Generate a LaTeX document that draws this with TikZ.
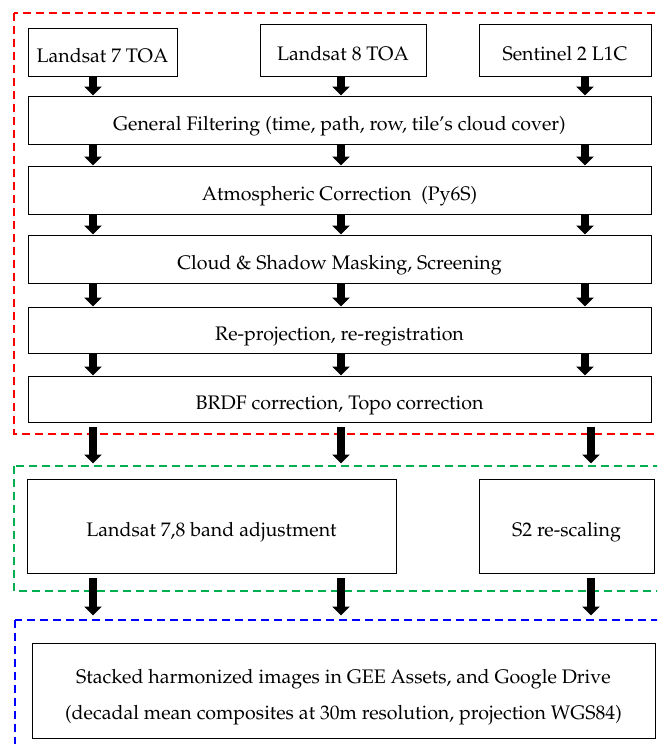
\documentclass[tikz,border=0pt]{standalone}
\usepackage[T1]{fontenc}
\usepackage{mathpazo}
\usetikzlibrary{arrows.meta}
\definecolor{grpred}{RGB}{255,0,0}
\definecolor{grpgreen}{RGB}{0,176,80}
\definecolor{grpblue}{RGB}{0,0,255}
\tikzset{
  box/.style={draw, line width=1pt, align=center, inner sep=0pt,
    text height=25pt, text depth=5pt,
    font=\fontsize{19.6pt}{36pt}\selectfont},
  flow/.style={line width=8pt, -{Triangle[width=17pt,length=9pt]}},
  group/.style={line width=1.6pt, dash pattern=on 8pt off 5pt}
}

\begin{document}
\begin{tikzpicture}[x=1pt,y=-1pt]
  \clip (0,0) rectangle (657,744);

  % groups
  \draw[group, grpred] (14,13) rectangle (700,434);
  \draw[group, grpgreen] (14,466) rectangle (700,591);
  \draw[group, grpblue] (15,620) rectangle (700,790);

  % inputs
  \node[box, minimum width=149pt, minimum height=48pt] (l7) at (102.5,52) {Landsat 7 TOA};
  \node[box, minimum width=166pt, minimum height=52pt] (l8) at (343,50) {Landsat 8 TOA};
  \node[box, minimum width=172pt, minimum height=52pt] (s2) at (565,50) {Sentinel 2 L1C};

  % preprocessing
  \node[box, minimum width=623pt, minimum height=48pt] (gf) at (339.5,120)
    {General Filtering (time, path, row, tile's cloud cover)};
  \node[box, minimum width=623pt, minimum height=48pt] (ac) at (339.5,190)
    {Atmospheric Correction~~(Py6S)};
  \node[box, minimum width=623pt, minimum height=48pt] (cs) at (339.5,259)
    {Cloud \& Shadow Masking, Screening};
  \node[box, minimum width=623pt, minimum height=46pt] (rp) at (339.5,330)
    {Re-projection, re-registration};
  \node[box, minimum width=623pt, minimum height=46pt] (br) at (339.5,399)
    {BRDF correction, Topo correction};

  % harmonization
  \node[box, minimum width=369pt, minimum height=94pt] (la) at (211.5,526)
    {Landsat 7,8 band adjustment};
  \node[box, minimum width=175pt, minimum height=94pt] (sr) at (566.5,526)
    {S2 re-scaling};

  % output
  \node[box, minimum width=623pt, minimum height=95pt, text height=62pt, text depth=5pt]
    (fin) at (343.5,690.5)
    {Stacked harmonized images in GEE Assets, and Google Drive\\
     (decadal mean composites at 30m resolution, projection WGS84)};

  \coordinate (c1) at (93,0);
  \coordinate (c2) at (341,0);
  \coordinate (c3) at (585,0);
  \coordinate (b3) at (591,0);

  \draw[flow] (l7.south -| c1) -- (gf.north -| c1);
  \draw[flow] (l8.south -| c2) -- (gf.north -| c2);
  \draw[flow] (s2.south -| c3) -- (gf.north -| c3);
  \foreach \u/\v in {gf/ac, ac/cs, cs/rp, rp/br}
    \foreach \c in {c1,c2,c3}
      \draw[flow] (\u.south -| \c) -- (\v.north -| \c);

  \foreach \c in {c1,c2,b3}
    \draw[flow] (br.south -| \c) ++(0,4) -- ++(0,37);
  \draw[flow] (la.south -| c1) ++(0,4) -- ++(0,38);
  \draw[flow] (la.south -| c2) ++(0,4) -- ++(0,38);
  \draw[flow] (sr.south -| b3) ++(0,4) -- ++(0,38);
\end{tikzpicture}
\end{document}
